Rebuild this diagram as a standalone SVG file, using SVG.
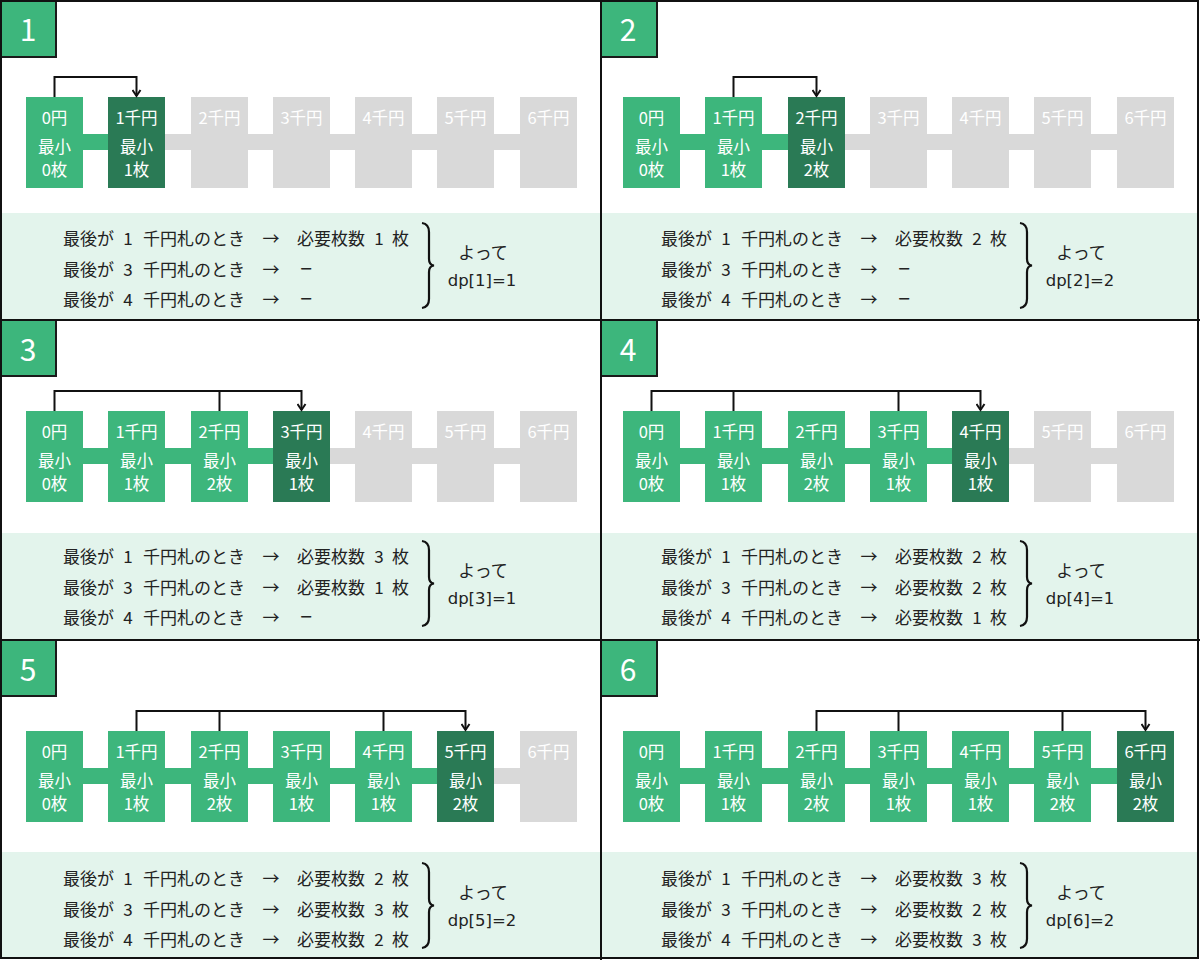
<svg xmlns="http://www.w3.org/2000/svg" width="1200" height="960" viewBox="0 0 1200 960">
<style>
text{font-family:"Noto Sans CJK JP","Noto Sans",sans-serif;font-size:17px;dominant-baseline:central}
.g{fill:#3db67c}.d{fill:#2a7a55}.x{fill:#d9d9d9}
.bl{fill:#ffffff;text-anchor:middle;font-size:16.5px}
.t{fill:#222222}.m{fill:#222222;text-anchor:middle}
.dash{fill:#222222;text-anchor:middle;font-family:"DejaVu Sans",sans-serif;font-size:16px}
.dp{fill:#222222;text-anchor:middle;font-family:"DejaVu Sans",sans-serif;font-size:16.5px}
.tab{fill:#3db67c;stroke:#1a1a1a;stroke-width:2}
.tn{fill:#ffffff;font-size:30px;text-anchor:middle}
.info{fill:#e3f4ec}
.c{fill:none;stroke:#111111;stroke-width:2}
.br{fill:none;stroke:#111111;stroke-width:2.2}
.bdr{fill:none;stroke:#111111;stroke-width:2}
</style>
<defs>
<marker id="ah" markerUnits="userSpaceOnUse" markerWidth="12" markerHeight="10" refX="5" refY="8" orient="0" viewBox="0 0 12 10">
<path d="M1,2 L5,8 L9,2" fill="none" stroke="#111111" stroke-width="2"/>
</marker>
</defs>
<rect x="0" y="0" width="1200" height="960" fill="#ffffff"/>

<g id="info-bg">
<rect class="info" x="2" y="213" width="598" height="106"/>
<rect class="info" x="602" y="213" width="596" height="106"/>
<rect class="info" x="2" y="533" width="598" height="106"/>
<rect class="info" x="602" y="533" width="596" height="106"/>
<rect class="info" x="2" y="852" width="598" height="106"/>
<rect class="info" x="602" y="852" width="596" height="106"/>
</g>

<!-- ===== Panel 1 ===== -->
<g id="panel1">
<g transform="translate(0,0)">
<rect class="g" x="54" y="134" width="83" height="16"/>
<rect class="x" x="137" y="134" width="412" height="16"/>
<g id="p1-n0"><rect class="g" x="26" y="97" width="57" height="91"/><text class="bl" x="54.5" y="117">0円</text><text class="bl" x="54.5" y="146">最小</text><text class="bl" x="54.5" y="169">0枚</text></g>
<g id="p1-n1"><rect class="d" x="108" y="97" width="57" height="91"/><text class="bl" x="136.5" y="117">1千円</text><text class="bl" x="136.5" y="146">最小</text><text class="bl" x="136.5" y="169">1枚</text></g>
<g id="p1-n2"><rect class="x" x="191" y="97" width="57" height="91"/><text class="bl" x="219.5" y="117">2千円</text></g>
<g id="p1-n3"><rect class="x" x="273" y="97" width="57" height="91"/><text class="bl" x="301.5" y="117">3千円</text></g>
<g id="p1-n4"><rect class="x" x="355" y="97" width="57" height="91"/><text class="bl" x="383.5" y="117">4千円</text></g>
<g id="p1-n5"><rect class="x" x="437" y="97" width="57" height="91"/><text class="bl" x="465.5" y="117">5千円</text></g>
<g id="p1-n6"><rect class="x" x="520" y="97" width="57" height="91"/><text class="bl" x="548.5" y="117">6千円</text></g>
<g id="p1-connectors"><path class="c" d="M54.5,97 V77 H136.5 V96" marker-end="url(#ah)"/></g>
</g>
<g id="p1-text" transform="translate(0,0)">
<text class="t" x="63" y="237">最後が</text><text class="m" x="128" y="237">1</text><text class="t" x="143" y="237">千円札のとき</text><text class="m" x="271" y="237">→</text><text class="t" x="297" y="237">必要枚数</text><text class="m" x="379" y="237">1</text><text class="t" x="392" y="237">枚</text>
<text class="t" x="63" y="268">最後が</text><text class="m" x="128" y="268">3</text><text class="t" x="143" y="268">千円札のとき</text><text class="m" x="271" y="268">→</text><text class="dash" x="306" y="268">−</text>
<text class="t" x="63" y="298">最後が</text><text class="m" x="128" y="298">4</text><text class="t" x="143" y="298">千円札のとき</text><text class="m" x="271" y="298">→</text><text class="dash" x="306" y="298">−</text>
<path class="br" d="M422,223 Q429,224 429,232 V259 Q429,265 434,265.5 Q429,266 429,272 V299 Q429,307 422,308"/>
<text class="m" x="483" y="251">よって</text><text class="dp" x="482" y="280">dp[1]=1</text>
</g>
</g>

<!-- ===== Panel 2 ===== -->
<g id="panel2">
<g transform="translate(597,0)">
<rect class="g" x="54" y="134" width="166" height="16"/>
<rect class="x" x="219" y="134" width="330" height="16"/>
<g id="p2-n0"><rect class="g" x="26" y="97" width="57" height="91"/><text class="bl" x="54.5" y="117">0円</text><text class="bl" x="54.5" y="146">最小</text><text class="bl" x="54.5" y="169">0枚</text></g>
<g id="p2-n1"><rect class="g" x="108" y="97" width="57" height="91"/><text class="bl" x="136.5" y="117">1千円</text><text class="bl" x="136.5" y="146">最小</text><text class="bl" x="136.5" y="169">1枚</text></g>
<g id="p2-n2"><rect class="d" x="191" y="97" width="57" height="91"/><text class="bl" x="219.5" y="117">2千円</text><text class="bl" x="219.5" y="146">最小</text><text class="bl" x="219.5" y="169">2枚</text></g>
<g id="p2-n3"><rect class="x" x="273" y="97" width="57" height="91"/><text class="bl" x="301.5" y="117">3千円</text></g>
<g id="p2-n4"><rect class="x" x="355" y="97" width="57" height="91"/><text class="bl" x="383.5" y="117">4千円</text></g>
<g id="p2-n5"><rect class="x" x="437" y="97" width="57" height="91"/><text class="bl" x="465.5" y="117">5千円</text></g>
<g id="p2-n6"><rect class="x" x="520" y="97" width="57" height="91"/><text class="bl" x="548.5" y="117">6千円</text></g>
<g id="p2-connectors"><path class="c" d="M136.5,97 V77 H219.5 V96" marker-end="url(#ah)"/></g>
</g>
<g id="p2-text" transform="translate(598,0)">
<text class="t" x="63" y="237">最後が</text><text class="m" x="128" y="237">1</text><text class="t" x="143" y="237">千円札のとき</text><text class="m" x="271" y="237">→</text><text class="t" x="297" y="237">必要枚数</text><text class="m" x="379" y="237">2</text><text class="t" x="392" y="237">枚</text>
<text class="t" x="63" y="268">最後が</text><text class="m" x="128" y="268">3</text><text class="t" x="143" y="268">千円札のとき</text><text class="m" x="271" y="268">→</text><text class="dash" x="306" y="268">−</text>
<text class="t" x="63" y="298">最後が</text><text class="m" x="128" y="298">4</text><text class="t" x="143" y="298">千円札のとき</text><text class="m" x="271" y="298">→</text><text class="dash" x="306" y="298">−</text>
<path class="br" d="M422,223 Q429,224 429,232 V259 Q429,265 434,265.5 Q429,266 429,272 V299 Q429,307 422,308"/>
<text class="m" x="483" y="251">よって</text><text class="dp" x="482" y="280">dp[2]=2</text>
</g>
</g>

<!-- ===== Panel 3 ===== -->
<g id="panel3">
<g transform="translate(0,314)">
<rect class="g" x="54" y="134" width="248" height="16"/>
<rect class="x" x="301" y="134" width="248" height="16"/>
<g id="p3-n0"><rect class="g" x="26" y="97" width="57" height="91"/><text class="bl" x="54.5" y="117">0円</text><text class="bl" x="54.5" y="146">最小</text><text class="bl" x="54.5" y="169">0枚</text></g>
<g id="p3-n1"><rect class="g" x="108" y="97" width="57" height="91"/><text class="bl" x="136.5" y="117">1千円</text><text class="bl" x="136.5" y="146">最小</text><text class="bl" x="136.5" y="169">1枚</text></g>
<g id="p3-n2"><rect class="g" x="191" y="97" width="57" height="91"/><text class="bl" x="219.5" y="117">2千円</text><text class="bl" x="219.5" y="146">最小</text><text class="bl" x="219.5" y="169">2枚</text></g>
<g id="p3-n3"><rect class="d" x="273" y="97" width="57" height="91"/><text class="bl" x="301.5" y="117">3千円</text><text class="bl" x="301.5" y="146">最小</text><text class="bl" x="301.5" y="169">1枚</text></g>
<g id="p3-n4"><rect class="x" x="355" y="97" width="57" height="91"/><text class="bl" x="383.5" y="117">4千円</text></g>
<g id="p3-n5"><rect class="x" x="437" y="97" width="57" height="91"/><text class="bl" x="465.5" y="117">5千円</text></g>
<g id="p3-n6"><rect class="x" x="520" y="97" width="57" height="91"/><text class="bl" x="548.5" y="117">6千円</text></g>
<g id="p3-connectors"><path class="c" d="M54.5,97 V77 H301.5 V96" marker-end="url(#ah)"/><path class="c" d="M219.5,97 V77"/></g>
</g>
<g id="p3-text" transform="translate(0,318)">
<text class="t" x="63" y="237">最後が</text><text class="m" x="128" y="237">1</text><text class="t" x="143" y="237">千円札のとき</text><text class="m" x="271" y="237">→</text><text class="t" x="297" y="237">必要枚数</text><text class="m" x="379" y="237">3</text><text class="t" x="392" y="237">枚</text>
<text class="t" x="63" y="268">最後が</text><text class="m" x="128" y="268">3</text><text class="t" x="143" y="268">千円札のとき</text><text class="m" x="271" y="268">→</text><text class="t" x="297" y="268">必要枚数</text><text class="m" x="379" y="268">1</text><text class="t" x="392" y="268">枚</text>
<text class="t" x="63" y="298">最後が</text><text class="m" x="128" y="298">4</text><text class="t" x="143" y="298">千円札のとき</text><text class="m" x="271" y="298">→</text><text class="dash" x="306" y="298">−</text>
<path class="br" d="M422,223 Q429,224 429,232 V259 Q429,265 434,265.5 Q429,266 429,272 V299 Q429,307 422,308"/>
<text class="m" x="483" y="251">よって</text><text class="dp" x="482" y="280">dp[3]=1</text>
</g>
</g>

<!-- ===== Panel 4 ===== -->
<g id="panel4">
<g transform="translate(597,314)">
<rect class="g" x="54" y="134" width="330" height="16"/>
<rect class="x" x="383" y="134" width="166" height="16"/>
<g id="p4-n0"><rect class="g" x="26" y="97" width="57" height="91"/><text class="bl" x="54.5" y="117">0円</text><text class="bl" x="54.5" y="146">最小</text><text class="bl" x="54.5" y="169">0枚</text></g>
<g id="p4-n1"><rect class="g" x="108" y="97" width="57" height="91"/><text class="bl" x="136.5" y="117">1千円</text><text class="bl" x="136.5" y="146">最小</text><text class="bl" x="136.5" y="169">1枚</text></g>
<g id="p4-n2"><rect class="g" x="191" y="97" width="57" height="91"/><text class="bl" x="219.5" y="117">2千円</text><text class="bl" x="219.5" y="146">最小</text><text class="bl" x="219.5" y="169">2枚</text></g>
<g id="p4-n3"><rect class="g" x="273" y="97" width="57" height="91"/><text class="bl" x="301.5" y="117">3千円</text><text class="bl" x="301.5" y="146">最小</text><text class="bl" x="301.5" y="169">1枚</text></g>
<g id="p4-n4"><rect class="d" x="355" y="97" width="57" height="91"/><text class="bl" x="383.5" y="117">4千円</text><text class="bl" x="383.5" y="146">最小</text><text class="bl" x="383.5" y="169">1枚</text></g>
<g id="p4-n5"><rect class="x" x="437" y="97" width="57" height="91"/><text class="bl" x="465.5" y="117">5千円</text></g>
<g id="p4-n6"><rect class="x" x="520" y="97" width="57" height="91"/><text class="bl" x="548.5" y="117">6千円</text></g>
<g id="p4-connectors"><path class="c" d="M54.5,97 V77 H383.5 V96" marker-end="url(#ah)"/><path class="c" d="M136.5,97 V77"/><path class="c" d="M301.5,97 V77"/></g>
</g>
<g id="p4-text" transform="translate(598,318)">
<text class="t" x="63" y="237">最後が</text><text class="m" x="128" y="237">1</text><text class="t" x="143" y="237">千円札のとき</text><text class="m" x="271" y="237">→</text><text class="t" x="297" y="237">必要枚数</text><text class="m" x="379" y="237">2</text><text class="t" x="392" y="237">枚</text>
<text class="t" x="63" y="268">最後が</text><text class="m" x="128" y="268">3</text><text class="t" x="143" y="268">千円札のとき</text><text class="m" x="271" y="268">→</text><text class="t" x="297" y="268">必要枚数</text><text class="m" x="379" y="268">2</text><text class="t" x="392" y="268">枚</text>
<text class="t" x="63" y="298">最後が</text><text class="m" x="128" y="298">4</text><text class="t" x="143" y="298">千円札のとき</text><text class="m" x="271" y="298">→</text><text class="t" x="297" y="298">必要枚数</text><text class="m" x="379" y="298">1</text><text class="t" x="392" y="298">枚</text>
<path class="br" d="M422,223 Q429,224 429,232 V259 Q429,265 434,265.5 Q429,266 429,272 V299 Q429,307 422,308"/>
<text class="m" x="483" y="251">よって</text><text class="dp" x="482" y="280">dp[4]=1</text>
</g>
</g>

<!-- ===== Panel 5 ===== -->
<g id="panel5">
<g transform="translate(0,634)">
<rect class="g" x="54" y="134" width="412" height="16"/>
<rect class="x" x="465" y="134" width="84" height="16"/>
<g id="p5-n0"><rect class="g" x="26" y="97" width="57" height="91"/><text class="bl" x="54.5" y="117">0円</text><text class="bl" x="54.5" y="146">最小</text><text class="bl" x="54.5" y="169">0枚</text></g>
<g id="p5-n1"><rect class="g" x="108" y="97" width="57" height="91"/><text class="bl" x="136.5" y="117">1千円</text><text class="bl" x="136.5" y="146">最小</text><text class="bl" x="136.5" y="169">1枚</text></g>
<g id="p5-n2"><rect class="g" x="191" y="97" width="57" height="91"/><text class="bl" x="219.5" y="117">2千円</text><text class="bl" x="219.5" y="146">最小</text><text class="bl" x="219.5" y="169">2枚</text></g>
<g id="p5-n3"><rect class="g" x="273" y="97" width="57" height="91"/><text class="bl" x="301.5" y="117">3千円</text><text class="bl" x="301.5" y="146">最小</text><text class="bl" x="301.5" y="169">1枚</text></g>
<g id="p5-n4"><rect class="g" x="355" y="97" width="57" height="91"/><text class="bl" x="383.5" y="117">4千円</text><text class="bl" x="383.5" y="146">最小</text><text class="bl" x="383.5" y="169">1枚</text></g>
<g id="p5-n5"><rect class="d" x="437" y="97" width="57" height="91"/><text class="bl" x="465.5" y="117">5千円</text><text class="bl" x="465.5" y="146">最小</text><text class="bl" x="465.5" y="169">2枚</text></g>
<g id="p5-n6"><rect class="x" x="520" y="97" width="57" height="91"/><text class="bl" x="548.5" y="117">6千円</text></g>
<g id="p5-connectors"><path class="c" d="M136.5,97 V77 H465.5 V96" marker-end="url(#ah)"/><path class="c" d="M219.5,97 V77"/><path class="c" d="M383.5,97 V77"/></g>
</g>
<g id="p5-text" transform="translate(0,640)">
<text class="t" x="63" y="237">最後が</text><text class="m" x="128" y="237">1</text><text class="t" x="143" y="237">千円札のとき</text><text class="m" x="271" y="237">→</text><text class="t" x="297" y="237">必要枚数</text><text class="m" x="379" y="237">2</text><text class="t" x="392" y="237">枚</text>
<text class="t" x="63" y="268">最後が</text><text class="m" x="128" y="268">3</text><text class="t" x="143" y="268">千円札のとき</text><text class="m" x="271" y="268">→</text><text class="t" x="297" y="268">必要枚数</text><text class="m" x="379" y="268">3</text><text class="t" x="392" y="268">枚</text>
<text class="t" x="63" y="298">最後が</text><text class="m" x="128" y="298">4</text><text class="t" x="143" y="298">千円札のとき</text><text class="m" x="271" y="298">→</text><text class="t" x="297" y="298">必要枚数</text><text class="m" x="379" y="298">2</text><text class="t" x="392" y="298">枚</text>
<path class="br" d="M422,223 Q429,224 429,232 V259 Q429,265 434,265.5 Q429,266 429,272 V299 Q429,307 422,308"/>
<text class="m" x="483" y="251">よって</text><text class="dp" x="482" y="280">dp[5]=2</text>
</g>
</g>

<!-- ===== Panel 6 ===== -->
<g id="panel6">
<g transform="translate(597,634)">
<rect class="g" x="54" y="134" width="495" height="16"/>
<g id="p6-n0"><rect class="g" x="26" y="97" width="57" height="91"/><text class="bl" x="54.5" y="117">0円</text><text class="bl" x="54.5" y="146">最小</text><text class="bl" x="54.5" y="169">0枚</text></g>
<g id="p6-n1"><rect class="g" x="108" y="97" width="57" height="91"/><text class="bl" x="136.5" y="117">1千円</text><text class="bl" x="136.5" y="146">最小</text><text class="bl" x="136.5" y="169">1枚</text></g>
<g id="p6-n2"><rect class="g" x="191" y="97" width="57" height="91"/><text class="bl" x="219.5" y="117">2千円</text><text class="bl" x="219.5" y="146">最小</text><text class="bl" x="219.5" y="169">2枚</text></g>
<g id="p6-n3"><rect class="g" x="273" y="97" width="57" height="91"/><text class="bl" x="301.5" y="117">3千円</text><text class="bl" x="301.5" y="146">最小</text><text class="bl" x="301.5" y="169">1枚</text></g>
<g id="p6-n4"><rect class="g" x="355" y="97" width="57" height="91"/><text class="bl" x="383.5" y="117">4千円</text><text class="bl" x="383.5" y="146">最小</text><text class="bl" x="383.5" y="169">1枚</text></g>
<g id="p6-n5"><rect class="g" x="437" y="97" width="57" height="91"/><text class="bl" x="465.5" y="117">5千円</text><text class="bl" x="465.5" y="146">最小</text><text class="bl" x="465.5" y="169">2枚</text></g>
<g id="p6-n6"><rect class="d" x="520" y="97" width="57" height="91"/><text class="bl" x="548.5" y="117">6千円</text><text class="bl" x="548.5" y="146">最小</text><text class="bl" x="548.5" y="169">2枚</text></g>
<g id="p6-connectors"><path class="c" d="M219.5,97 V77 H548.5 V96" marker-end="url(#ah)"/><path class="c" d="M301.5,97 V77"/><path class="c" d="M465.5,97 V77"/></g>
</g>
<g id="p6-text" transform="translate(598,640)">
<text class="t" x="63" y="237">最後が</text><text class="m" x="128" y="237">1</text><text class="t" x="143" y="237">千円札のとき</text><text class="m" x="271" y="237">→</text><text class="t" x="297" y="237">必要枚数</text><text class="m" x="379" y="237">3</text><text class="t" x="392" y="237">枚</text>
<text class="t" x="63" y="268">最後が</text><text class="m" x="128" y="268">3</text><text class="t" x="143" y="268">千円札のとき</text><text class="m" x="271" y="268">→</text><text class="t" x="297" y="268">必要枚数</text><text class="m" x="379" y="268">2</text><text class="t" x="392" y="268">枚</text>
<text class="t" x="63" y="298">最後が</text><text class="m" x="128" y="298">4</text><text class="t" x="143" y="298">千円札のとき</text><text class="m" x="271" y="298">→</text><text class="t" x="297" y="298">必要枚数</text><text class="m" x="379" y="298">3</text><text class="t" x="392" y="298">枚</text>
<path class="br" d="M422,223 Q429,224 429,232 V259 Q429,265 434,265.5 Q429,266 429,272 V299 Q429,307 422,308"/>
<text class="m" x="483" y="251">よって</text><text class="dp" x="482" y="280">dp[6]=2</text>
</g>
</g>

<g id="tabs">
<rect class="tab" x="1" y="1" width="55" height="56"/><text class="tn" x="28" y="28">1</text>
<rect class="tab" x="601" y="1" width="56" height="56"/><text class="tn" x="628" y="28">2</text>
<rect class="tab" x="1" y="320" width="55" height="56"/><text class="tn" x="28" y="348">3</text>
<rect class="tab" x="601" y="320" width="56" height="56"/><text class="tn" x="628" y="348">4</text>
<rect class="tab" x="1" y="640" width="55" height="56"/><text class="tn" x="28" y="668">5</text>
<rect class="tab" x="601" y="640" width="56" height="56"/><text class="tn" x="628" y="668">6</text>
</g>

<g id="borders">
<rect class="bdr" x="1" y="1" width="1197" height="957"/>
<line class="bdr" x1="601" y1="0" x2="601" y2="960"/>
<line class="bdr" x1="0" y1="320" x2="1200" y2="320"/>
<line class="bdr" x1="0" y1="640" x2="1200" y2="640"/>
</g>
</svg>
